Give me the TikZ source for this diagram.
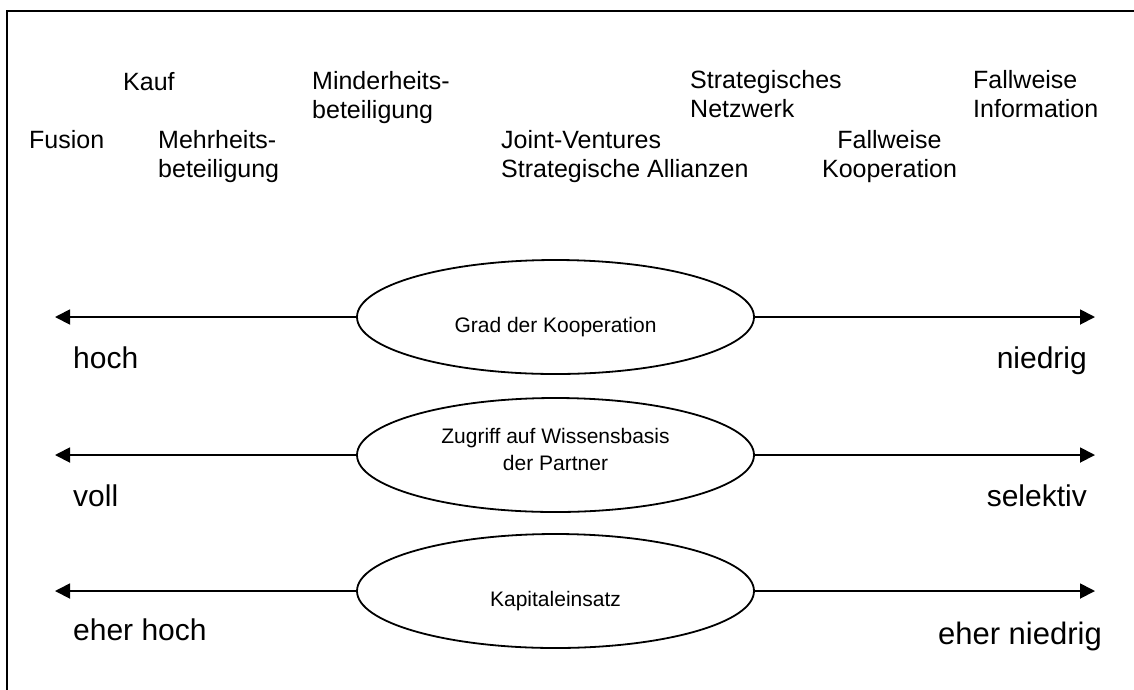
\documentclass[tikz,border=0pt]{standalone}
\usepackage{fontspec}
\setmainfont{Liberation Sans}
\usetikzlibrary{arrows.meta,shapes.geometric}

\begin{document}
\begin{tikzpicture}[x=1pt,y=-1pt,
  form/.style={inner sep=0pt, anchor=base west, align=left,
    font=\fontsize{25}{29}\selectfont},
  pole/.style={inner sep=0pt, font=\fontsize{30}{36}\selectfont},
  dimension/.style={ellipse, draw, line width=1.8pt,
    minimum width=397pt, minimum height=114pt, inner sep=0pt,
    align=center, font=\fontsize{21}{27}\selectfont},
  oneline/.style={text height=34pt, text depth=4pt},
  twoline/.style={text height=42pt, text depth=12pt},
  axisarrow/.style={line width=1.8pt,
    -{Triangle[length=15pt,width=15pt]}}]

\useasboundingbox (0,0) rectangle (1134,689);
\clip (0,0) rectangle (1134,689);

% surrounding frame (runs off the right and bottom edges)
\draw[line width=2pt] (7,720) -- (7,11) -- (1160,11);

% forms of cooperation (base = baseline of the last line)
\node[form] (kauf)   at (123,90)  {Kauf};
\node[form] (fusion) at (29,148)  {Fusion};
\node[form] (mehr)   at (158,177) {Mehrheits-\\beteiligung};
\node[form] (minder) at (312,118) {Minderheits-\\beteiligung};
\node[form] (jv)     at (501,177) {Joint-Ventures\\Strategische Allianzen};
\node[form] (netz)   at (690,117) {Strategisches\\Netzwerk};
\node[form, anchor=base, align=center] (fkoop) at (889.5,177) {Fallweise\\Kooperation};
\node[form] (finfo)  at (973,117) {Fallweise\\Information};

% dimensions
\node[dimension, oneline] (grad) at (555.5,317) {Grad der Kooperation};
\node[dimension, twoline] (wissen) at (555.5,455) {Zugriff auf Wissensbasis\\der Partner};
\node[dimension, oneline] (kapital) at (555.5,591) {Kapitaleinsatz};

% arrow ends
\coordinate (gradL) at (55,317);
\coordinate (gradR) at (1095,317);
\coordinate (wissenL) at (55,455);
\coordinate (wissenR) at (1095,455);
\coordinate (kapitalL) at (55,591);
\coordinate (kapitalR) at (1095,591);

\draw[axisarrow] (grad.west) -- (gradL);
\draw[axisarrow] (grad.east) -- (gradR);
\draw[axisarrow] (wissen.west) -- (wissenL);
\draw[axisarrow] (wissen.east) -- (wissenR);
\draw[axisarrow] (kapital.west) -- (kapitalL);
\draw[axisarrow] (kapital.east) -- (kapitalR);

% pole labels
\node[pole, anchor=base west] (hoch)    at (73,368)   {hoch};
\node[pole, anchor=base east] (niedrig) at (1087,368) {niedrig};
\node[pole, anchor=base west] (voll)    at (73,506)   {voll};
\node[pole, anchor=base east] (selektiv) at (1087,506) {selektiv};
\node[pole, anchor=base west] (eherhoch) at (73,640)  {eher hoch};
\node[pole, anchor=base east, font=\fontsize{31}{36}\selectfont] (ehernied) at (1102,644) {eher niedrig};

\end{tikzpicture}
\end{document}
